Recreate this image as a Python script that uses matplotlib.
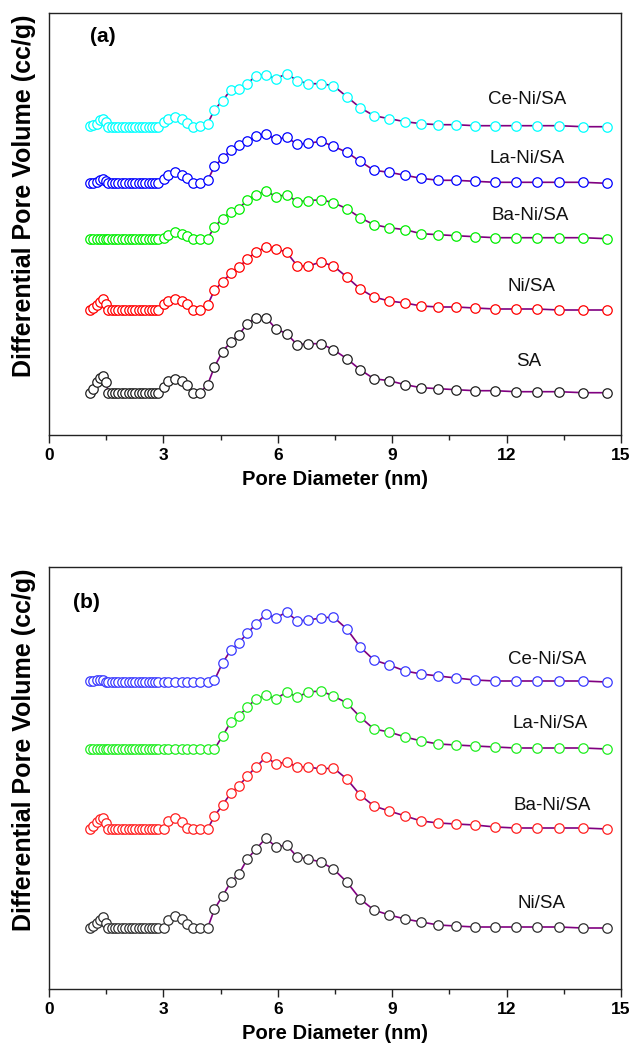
import matplotlib
matplotlib.use("Agg")
import matplotlib.pyplot as plt
from matplotlib import font_manager
from matplotlib.ticker import MultipleLocator

# ── Fonts ────────────────────────────────────────────────────────────────────
_names = {f.name for f in font_manager.fontManager.ttflist}
NARROW = "Liberation Sans Narrow" if "Liberation Sans Narrow" in _names else "Liberation Sans"
SANS = "Liberation Sans"
plt.rcParams["font.family"] = [SANS, "DejaVu Sans"]

# ── Data : pore diameter grid (nm) ───────────────────────────────────────────
pore_d = [1.08, 1.16, 1.25, 1.33, 1.41, 1.49,
          1.56, 1.65, 1.74, 1.82, 1.91, 2.00, 2.09, 2.17, 2.26, 2.35, 2.44, 2.52,
          2.61, 2.70, 2.78, 2.87,
          3.02, 3.13, 3.30, 3.48, 3.61, 3.78, 3.96, 4.16, 4.34, 4.55,
          4.77, 4.98, 5.20, 5.43, 5.69, 5.95, 6.23, 6.51, 6.80, 7.13,
          7.46, 7.81, 8.16, 8.52, 8.92, 9.34, 9.76, 10.21, 10.67, 11.17,
          11.70, 12.24, 12.79, 13.38, 14.00, 14.63]

# Panel (a) – dV (a.u., without stacking offset)
a_sa = [0.0, 0.4, 1.1, 1.5, 1.7, 1.1,
        0, 0, 0, 0, 0, 0, 0, 0, 0, 0, 0, 0, 0, 0, 0, 0,
        0.6, 1.2, 1.4, 1.2, 0.8, 0.0, 0.0, 0.8, 2.6, 4.1,
        5.1, 5.8, 6.9, 7.5, 7.5, 6.4, 5.9, 4.8, 4.9, 4.9,
        4.3, 3.4, 2.3, 1.4, 1.2, 0.8, 0.5, 0.4, 0.3, 0.2,
        0.2, 0.1, 0.1, 0.1, 0.0, 0.0]
a_ni = [0.0, 0.2, 0.5, 0.8, 1.1, 0.6,
        0, 0, 0, 0, 0, 0, 0, 0, 0, 0, 0, 0, 0, 0, 0, 0,
        0.6, 0.9, 1.1, 0.9, 0.6, 0.0, 0.0, 0.5, 2.0, 2.8,
        3.7, 4.3, 5.1, 5.8, 6.3, 6.1, 5.8, 4.4, 4.4, 4.8,
        4.4, 3.3, 2.1, 1.3, 0.9, 0.7, 0.4, 0.3, 0.3, 0.2,
        0.1, 0.1, 0.1, 0.0, 0.0, 0.0]
a_ba = [0.0, 0.0, 0.0, 0.0, 0.0, 0.0,
        0, 0, 0, 0, 0, 0, 0, 0, 0, 0, 0, 0, 0, 0, 0, 0,
        0.1, 0.4, 0.7, 0.5, 0.3, 0.0, 0.0, 0.0, 1.2, 2.0,
        2.7, 3.0, 3.9, 4.4, 4.8, 4.2, 4.4, 3.7, 3.8, 3.9,
        3.6, 3.0, 2.1, 1.4, 1.1, 0.9, 0.5, 0.4, 0.3, 0.2,
        0.1, 0.1, 0.1, 0.1, 0.1, 0.0]
a_la = [0.0, 0.0, 0.1, 0.3, 0.4, 0.2,
        0, 0, 0, 0, 0, 0, 0, 0, 0, 0, 0, 0, 0, 0, 0, 0,
        0.4, 0.8, 1.1, 0.8, 0.5, 0.0, 0.0, 0.3, 1.7, 2.5,
        3.3, 3.8, 4.2, 4.7, 4.9, 4.4, 4.6, 3.9, 4.0, 4.2,
        3.7, 3.1, 2.2, 1.3, 1.1, 0.8, 0.5, 0.3, 0.3, 0.2,
        0.1, 0.1, 0.1, 0.1, 0.1, 0.0]
a_ce = [0.1, 0.2, 0.3, 0.7, 0.8, 0.5,
        0, 0, 0, 0, 0, 0, 0, 0, 0, 0, 0, 0, 0, 0, 0, 0,
        0.5, 0.8, 1.0, 0.8, 0.4, 0.0, 0.1, 0.3, 1.7, 2.6,
        3.7, 3.8, 4.3, 5.1, 5.2, 4.8, 5.3, 4.6, 4.3, 4.3,
        4.1, 3.0, 1.9, 1.1, 0.8, 0.5, 0.3, 0.2, 0.2, 0.1,
        0.1, 0.1, 0.1, 0.1, 0.0, 0.0]

# Panel (b)
b_ni = [0.0, 0.2, 0.5, 0.8, 1.1, 0.5,
        0, 0, 0, 0, 0, 0, 0, 0, 0, 0, 0, 0, 0, 0, 0, 0,
        0.0, 0.8, 1.2, 0.9, 0.4, 0.0, 0.0, 0.0, 1.9, 3.2,
        4.6, 5.4, 6.9, 7.9, 9.0, 8.1, 8.3, 7.1, 6.9, 6.6,
        5.9, 4.6, 2.9, 1.8, 1.3, 0.9, 0.6, 0.3, 0.2, 0.1,
        0.1, 0.1, 0.1, 0.1, 0.0, 0.0]
b_ba = [0.0, 0.3, 0.7, 1.0, 1.1, 0.6,
        0, 0, 0, 0, 0, 0, 0, 0, 0, 0, 0, 0, 0, 0, 0, 0,
        0.0, 0.8, 1.1, 0.7, 0.1, 0.0, 0.0, 0.0, 1.3, 2.4,
        3.6, 4.3, 5.3, 6.2, 7.2, 6.5, 6.7, 6.2, 6.2, 6.0,
        6.1, 5.0, 3.4, 2.3, 1.8, 1.3, 0.8, 0.6, 0.5, 0.4,
        0.2, 0.1, 0.1, 0.1, 0.1, 0.0]
b_la = [0.0, 0.0, 0.0, 0.0, 0.0, 0.0,
        0, 0, 0, 0, 0, 0, 0, 0, 0, 0, 0, 0, 0, 0, 0, 0,
        0.0, 0.0, 0.0, 0.0, 0.0, 0.0, 0.0, 0.0, 0.0, 1.3,
        2.7, 3.3, 4.2, 5.0, 5.4, 5.0, 5.7, 5.2, 5.7, 5.8,
        5.3, 4.6, 3.2, 2.0, 1.7, 1.2, 0.8, 0.5, 0.4, 0.3,
        0.2, 0.1, 0.1, 0.1, 0.1, 0.0]
b_ce = [0.1, 0.1, 0.2, 0.2, 0.2, 0.0,
        0, 0, 0, 0, 0, 0, 0, 0, 0, 0, 0, 0, 0, 0, 0, 0,
        0.0, 0.0, 0.0, 0.0, 0.0, 0.0, 0.0, 0.0, 0.2, 1.9,
        3.2, 3.9, 4.9, 5.8, 6.8, 6.4, 7.0, 6.1, 6.2, 6.4,
        6.5, 5.3, 3.5, 2.2, 1.7, 1.1, 0.8, 0.6, 0.4, 0.2,
        0.1, 0.1, 0.1, 0.1, 0.1, 0.0]

labels_a = ["SA", "Ni/SA", "Ba-Ni/SA", "La-Ni/SA", "Ce-Ni/SA"]
series_a = [a_sa, a_ni, a_ba, a_la, a_ce]
offsets_a = [4.23, 12.5, 19.63, 25.17, 30.83]

labels_b = ["Ni/SA", "Ba-Ni/SA", "La-Ni/SA", "Ce-Ni/SA"]
series_b = [b_ni, b_ba, b_la, b_ce]
offsets_b = [6.1, 16.0, 24.0, 30.7]

# ── Styles ───────────────────────────────────────────────────────────────────
colors_a = ["#202020", "#ff0000", "#00ee00", "#0000ff", "#00ffff"]
colors_b = ["#303030", "#ff2020", "#20ee20", "#3a3aff"]
LINE_COLOR = "#800080"
text_pos_a = [(12.58, 7.33), (12.66, 14.83), (12.63, 21.9), (12.55, 27.67), (12.53, 33.57)]
text_pos_b = [(12.91, 8.57), (13.19, 18.3), (13.14, 26.5), (13.07, 32.9)]

W, H = 633, 1051
fig = plt.figure(figsize=(W / 100, H / 100), dpi=100)
ax_a = fig.add_axes([49 / W, 1 - 435 / H, 572 / W, 422 / H])
ax_b = fig.add_axes([49 / W, 1 - 989 / H, 572 / W, 422 / H])


def draw_panel(ax, series, offsets, colors, labels, text_pos, tag, tag_xy):
    for y, off, c, lab, (tx, ty) in zip(series, offsets, colors, labels, text_pos):
        yy = [v + off for v in y]
        ax.plot(pore_d, yy, color=LINE_COLOR, lw=1.2, zorder=2)
        ax.plot(pore_d, yy, ls="none", marker="o", ms=6.8, mfc="white",
                mec=c, mew=0.9, zorder=3)
        ax.text(tx, ty, lab, ha="center", va="center", fontsize=13.5, color="#111111")
    ax.text(*tag_xy, tag, transform=ax.transAxes, ha="center", va="center",
            fontsize=15, fontweight="bold")
    ax.set_xlim(0, 15)
    ax.set_ylim(0, 42.2)
    ax.set_yticks([])
    ax.xaxis.set_major_locator(MultipleLocator(3))
    ax.xaxis.set_minor_locator(MultipleLocator(1.5))
    ax.tick_params(axis="x", which="major", direction="out", length=5.5, width=1.0,
                   pad=4, colors="#222222")
    ax.tick_params(axis="x", which="minor", direction="out", length=3.5, width=1.0,
                   colors="#222222")
    for lbl in ax.get_xticklabels():
        lbl.set_fontfamily([NARROW, "DejaVu Sans"])
        lbl.set_fontweight("bold")
        lbl.set_fontsize(12.5)
        lbl.set_color("black")
    for s in ax.spines.values():
        s.set_linewidth(1.0)
        s.set_color("#222222")
    ax.set_xlabel("Pore Diameter (nm)", fontfamily=[NARROW, "DejaVu Sans"],
                  fontweight="bold", fontsize=14.5, labelpad=5)


draw_panel(ax_a, series_a, offsets_a, colors_a, labels_a, text_pos_a, "(a)", (0.094, 0.945))
draw_panel(ax_b, series_b, offsets_b, colors_b, labels_b, text_pos_b, "(b)", (0.066, 0.917))

for yc in (196, 750):
    fig.text(24 / W, 1 - yc / H, "Differential Pore Volume (cc/g)", rotation=90,
             ha="center", va="center", fontsize=18, fontweight="bold")

fig.savefig("out.png", dpi=100)
